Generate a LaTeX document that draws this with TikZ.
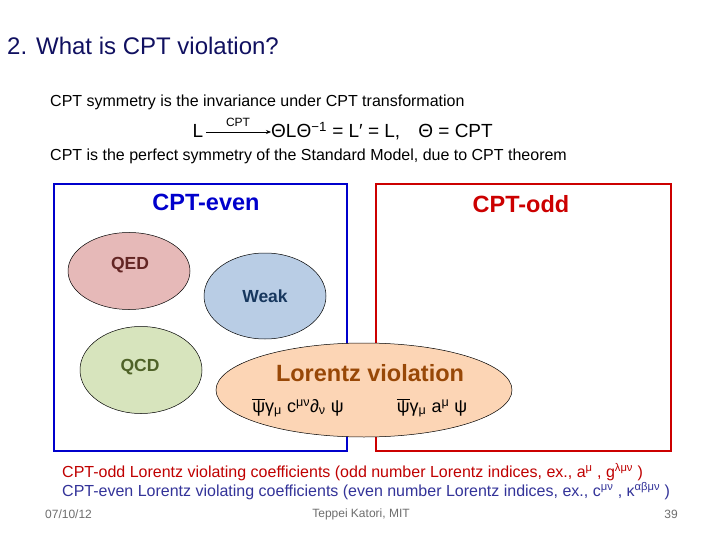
\documentclass[tikz,border=0pt]{standalone}
\usepackage{fontspec}
\setmainfont{Liberation Sans}
\usetikzlibrary{shapes.geometric,arrows.meta}
\definecolor{titlenavy}{RGB}{16,16,96}
\definecolor{boxblue}{RGB}{0,0,204}
\definecolor{boxred}{RGB}{204,0,0}
\definecolor{qedfill}{RGB}{230,185,184}
\definecolor{qedtext}{RGB}{99,37,35}
\definecolor{weakfill}{RGB}{185,205,229}
\definecolor{weaktext}{RGB}{23,55,94}
\definecolor{qcdfill}{RGB}{215,228,189}
\definecolor{qcdtext}{RGB}{79,98,40}
\definecolor{lvfill}{RGB}{252,213,181}
\definecolor{lvtext}{RGB}{152,72,7}
\definecolor{oddtext}{RGB}{192,0,0}
\definecolor{eventext}{RGB}{51,51,153}
\definecolor{footgray}{RGB}{110,110,110}
\newcommand{\mypsibar}{$\overline{\hbox{ψ}}$}
\begin{document}
\begin{tikzpicture}[x=1pt,y=-1pt,
  body/.style={inner sep=0pt,anchor=west,font=\fontsize{16}{18}\selectfont},
  sector/.style={draw=#1,line width=2.6pt},
  bubble/.style={ellipse,draw=black,line width=0.5pt,fill=#1,inner sep=0pt},
  bubtext/.style={font=\bfseries\fontsize{17.5}{20}\selectfont,text=#1,inner sep=0pt},
  formula/.style={inner sep=0pt,font=\fontsize{18}{20}\selectfont},
  foot/.style={inner sep=0pt,font=\fontsize{12}{14}\selectfont,text=footgray}]
\useasboundingbox[fill=white] (0,0) rectangle (720,540);

% title
\node[inner sep=0pt,anchor=west,text=titlenavy,font=\fontsize{24}{28}\selectfont] (title) at (7,46) {2. What is CPT violation?};

\node[body] (t1) at (50,102) {CPT symmetry is the invariance under CPT transformation};

% equation
\node[inner sep=0pt,font=\fontsize{19}{22}\selectfont] (L) at (198,131) {L};
\node[inner sep=0pt,anchor=west,font=\fontsize{19}{22}\selectfont] (rhs) at (271,131) {ΘLΘ\textsuperscript{−1} = L′ = L,\hspace{0.95em}Θ = CPT};
\draw[-{Stealth[length=5pt,width=4pt]},line width=0.7pt] (L.east) ++(3,1) coordinate (aS) -- (aS -| rhs.west);
\node[inner sep=0pt,font=\fontsize{12}{14}\selectfont] (cptlab) at (238,122) {CPT};

\node[body] (t2) at (50,156) {CPT is the perfect symmetry of the Standard Model, due to CPT theorem};

% sector boxes
\draw[sector=boxblue] (54,184) rectangle (347,451);
\draw[sector=boxred] (376,184) rectangle (671,451);
\node[inner sep=0pt,text=boxblue,font=\bfseries\fontsize{23.5}{26}\selectfont] (even) at (206,202) {CPT-even};
\node[inner sep=0pt,text=boxred,font=\bfseries\fontsize{23.5}{26}\selectfont] (odd) at (521,204) {CPT-odd};

% bubbles
\node[bubble=qedfill,minimum width=122pt,minimum height=77pt] (qed) at (129,271) {};
\node[bubtext=qedtext] at (130,265) {QED};
\node[bubble=weakfill,minimum width=122pt,minimum height=86pt] (weak) at (265,296) {};
\node[bubtext=weaktext] at (265,296) {Weak};
\node[bubble=qcdfill,minimum width=122pt,minimum height=87pt] (qcd) at (141,370) {};
\node[bubtext=qcdtext] at (140,367) {QCD};

\node[bubble=lvfill,minimum width=296pt,minimum height=94pt] (lv) at (364,390) {};
\node[inner sep=0pt,text=lvtext,font=\bfseries\fontsize{23.5}{26}\selectfont] (lvt) at (370,373) {Lorentz violation};
\node[formula] (f1) at (298,408) {\mypsibar γ\textsubscript{μ} c\textsuperscript{μν}∂\textsubscript{ν} ψ};
\node[formula] (f2) at (432,408) {\mypsibar γ\textsubscript{μ} a\textsuperscript{μ} ψ};

% bottom explanations
\node[body,text=oddtext] (b1) at (62,472) {CPT-odd Lorentz violating coefficients (odd number Lorentz indices, ex., a\textsuperscript{μ} , g\textsuperscript{λμν} )};
\node[body,text=eventext] (b2) at (62,491) {CPT-even Lorentz violating coefficients (even number Lorentz indices, ex., c\textsuperscript{μν} , κ\textsuperscript{αβμν} )};

% footer
\node[foot,anchor=west] (date) at (45,514) {07/10/12};
\node[foot] (author) at (361,514) {Teppei Katori, MIT};
\node[foot,anchor=east] (page) at (678,514) {39};
\end{tikzpicture}
\end{document}
